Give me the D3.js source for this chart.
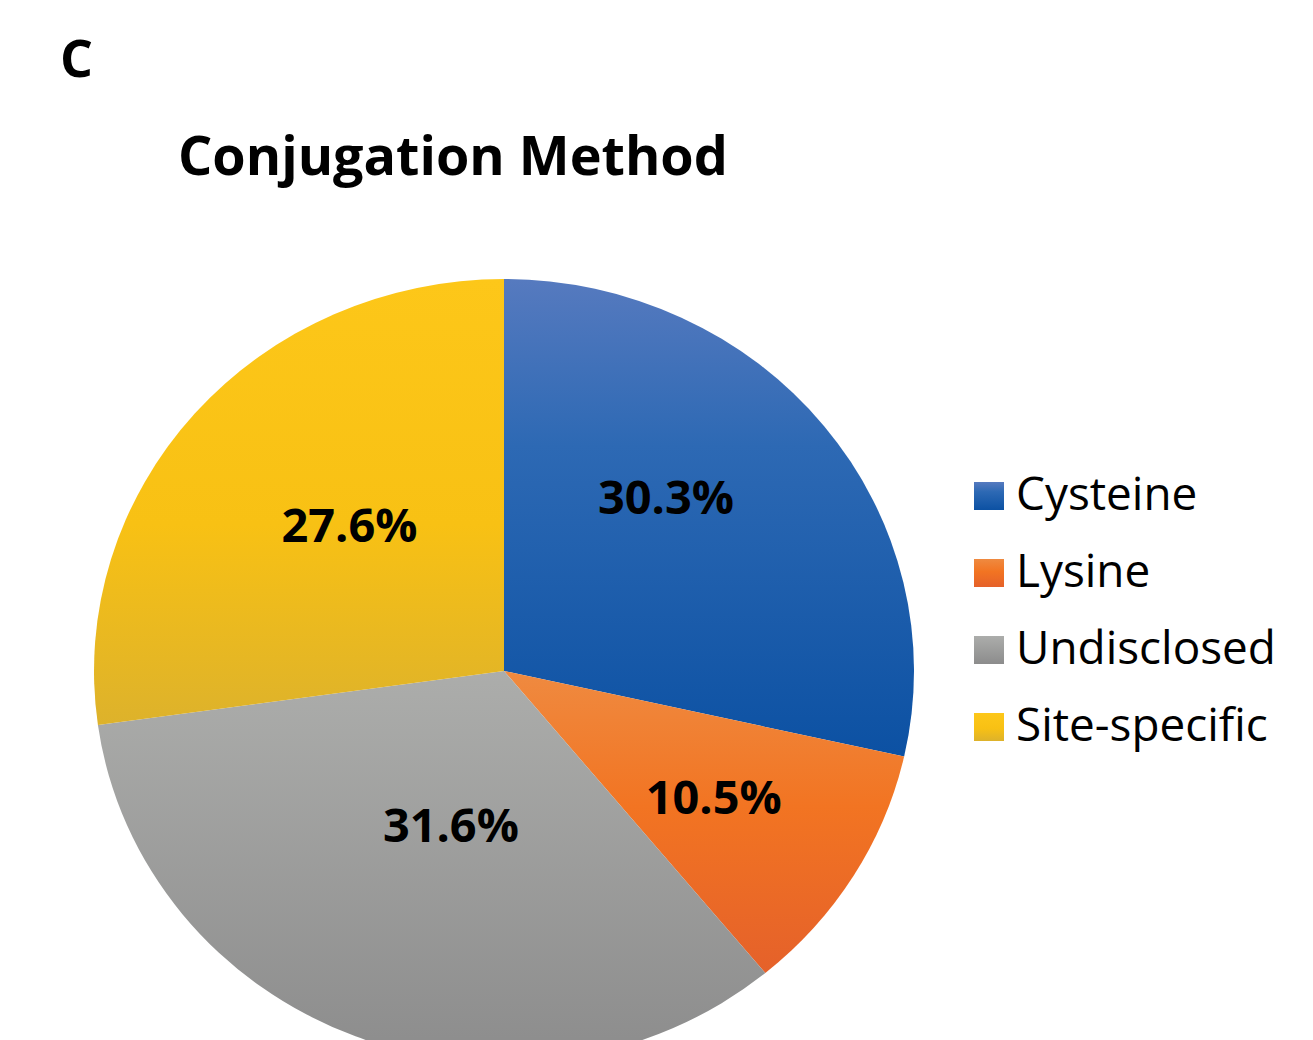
<!DOCTYPE html>
<html lang="en">
<head>
  <meta charset="UTF-8" />
  <title>Conjugation Method</title>
  <script src="https://d3js.org/d3.v7.min.js"></script>
  <style>
    body { margin: 0; background-color: white; }
    svg text { font-family: "Open Sans", sans-serif; fill: black; }
  </style>
</head>
<body>
<div id="chart"></div>
<script>
// ---- data ----
var categories = ["Cysteine", "Lysine", "Undisclosed", "Site-specific"];
// slice sizes as drawn (share of the circle, %)
var shares = [28.5, 10.5, 33.8, 27.2];
// percentages printed on the slices
var labelText = ["30.3%", "10.5%", "31.6%", "27.6%"];

// ---- styles ----
var gradStops = [
  [["0%", "#567ABF"], ["35%", "#2D69B4"], ["100%", "#0C51A3"]],   // blue
  [["0%", "#EF8A40"], ["45%", "#F27422"], ["100%", "#E5612A"]],   // orange
  [["0%", "#ACADAB"], ["100%", "#8C8C8C"]],                       // gray
  [["0%", "#FDC719"], ["55%", "#F8C114"], ["100%", "#DDB22B"]]    // yellow
];

var width = 1313, height = 1040;
var cx = 504, cy = 671, R = 410, squash = 392 / 410;
// label nudges from the arc centroid (px)
var labelNudge = [[-30, -27], [0, 3], [36, -65], [31, 9]];

var svg = d3.select("#chart").append("svg")
    .attr("width", width)
    .attr("height", height);

var defs = svg.append("defs");
gradStops.forEach(function(stops, i) {
  var g = defs.append("linearGradient")
      .attr("id", "grad" + i)
      .attr("x1", 0).attr("y1", 0).attr("x2", 0).attr("y2", 1);
  stops.forEach(function(s) {
    g.append("stop").attr("offset", s[0]).attr("stop-color", s[1]);
  });
});

// font size that makes a string a given width
function fitSize(str, weight, target) {
  var t = svg.append("text").attr("font-size", 100).attr("font-weight", weight).text(str);
  var w = t.node().getComputedTextLength();
  t.remove();
  return 100 * target / w;
}

// panel letter + title
svg.append("text")
  .attr("x", 60).attr("y", 77)
  .attr("font-weight", "bold")
  .attr("font-size", fitSize("C", "bold", 33))
  .text("C");

svg.append("text")
  .attr("x", 178).attr("y", 175)
  .attr("font-weight", "bold")
  .attr("font-size", fitSize("Conjugation Method", "bold", 550))
  .text("Conjugation Method");

// pie
var pie = d3.pie().sort(null).value(function(d) { return d; });
var arcs = pie(shares);
var arc = d3.arc().innerRadius(0).outerRadius(R);
var labelArc = d3.arc().innerRadius(R * 0.6).outerRadius(R * 0.6);

var g = svg.append("g")
    .attr("transform", "translate(" + cx + "," + cy + ") scale(1," + squash + ")");

g.selectAll("path")
  .data(arcs)
  .enter()
  .append("path")
    .attr("d", arc)
    .style("fill", function(d, i) { return "url(#grad" + i + ")"; });

var pctSize = fitSize("30.3%", "bold", 136);
svg.append("g")
  .selectAll("text")
  .data(arcs)
  .enter()
  .append("text")
    .attr("text-anchor", "middle")
    .attr("dy", "0.36em")
    .attr("font-weight", "bold")
    .attr("font-size", pctSize)
    .attr("x", function(d, i) { return cx + labelArc.centroid(d)[0] + labelNudge[i][0]; })
    .attr("y", function(d, i) { return cy + labelArc.centroid(d)[1] * squash + labelNudge[i][1]; })
    .text(function(d, i) { return labelText[i]; });

// legend
var legSize = fitSize("Undisclosed", "normal", 260);
var leg = svg.append("g");
categories.forEach(function(name, i) {
  var base = 510 + i * 77;
  leg.append("rect")
    .attr("x", 974).attr("y", base - 28)
    .attr("width", 30).attr("height", 28)
    .style("fill", "url(#grad" + i + ")");
  leg.append("text")
    .attr("x", 1016).attr("y", base)
    .attr("font-size", legSize)
    .text(name);
});
</script>
</body>
</html>
